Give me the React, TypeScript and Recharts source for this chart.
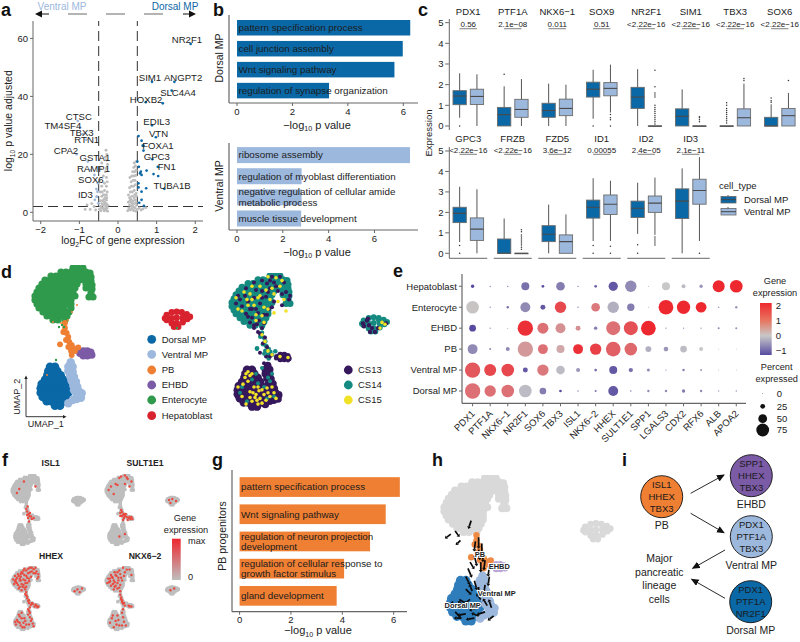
import React from 'react';
import { ScatterChart, Scatter, XAxis, YAxis, ReferenceLine, BarChart, Bar } from 'recharts';

const FONT = '"Liberation Sans", Arial, sans-serif';
const DORSAL = '#0B68A6';
const VENTRAL = '#9DB8DD';
const PBC = '#EF7F33';
const EHBDC = '#7C5BA6';
const ENTC = '#2F9A4C';
const HEPC = '#D8232F';
const CS13C = '#35185C';
const CS14C = '#148A80';
const CS15C = '#F0E227';
const INK = '#222';
const AX = '#666';

type P = number[];

// ---------- a: volcano ----------
const volcanoGrey: P[] = [[-.48,1],[-.45,2],[-.42,3],[-.4,1.5],[-.38,2.5],[-.36,.5],[-.35,3.5],[-.33,1.2],[-.32,2.2],[-.3,.6],[-.3,3],[-.28,1.5],[-.27,.4],[-.26,2.4],[-.44,.5],[-.4,4],[-.36,4.5],[-.33,5],[-.3,4.2],[-.46,4],[-.42,5.5],[-.38,6],[-.3,6],[-.28,7],[-.35,7.5],[-.46,7],[-.3,9],[-.35,10],[-.42,9],[-.28,10.5],[-.3,12],[-.38,12.5],[-.33,14],[-.45,15],[-.3,15],[-.27,16.5],[-.42,17],[-.3,18],[-.33,19],[-.29,20],[-.31,21.4],[-.48,11],[-.85,1],[-.8,2.5],[-.72,1],[-.62,2],[-.58,.8],[-.68,3],
[.25,.5],[.28,1.5],[.3,2.5],[.32,.8],[.34,3.5],[.36,1.2],[.38,2.2],[.4,.6],[.42,3],[.44,1.5],[.46,.4],[.48,2.4],[.27,3.5],[.3,5],[.33,4.5],[.36,5.5],[.39,4],[.42,5],[.45,4.2],[.48,5.5],[.27,6],[.32,7],[.37,7],[.42,7.5],[.47,6.5],[.3,8.5],[.35,9],[.4,9],[.45,9.5],[.34,10.5],[.39,11],[.44,11],[.31,12],[.36,12.5],[.41,12.5],[.46,12.7],[.38,14],[.43,14],[.47,14.5],[.41,15.5],[.45,16],[.42,17],[.47,17.5],[.5,1],[.55,1.5],[.6,.8],[.65,1.2],[.72,1.6],[.29,1],[.35,2],[.41,1.8],[.47,3.3],[.31,4],[.37,3],[.43,6],[-.31,1.8],[-.37,1.2],[-.43,1.4],[-.29,5],[-.35,6],[-.41,7],[-.34,2.9]];
const volcanoUpDorsal: P[] = [[.53,26.3],[.61,24.7],[.64,23],[.66,21.3],[.5,17.5],[.54,15.7],[.57,13.4],[.61,12.9],[.59,14],[.74,14.4],[.92,13.2],[1.04,12.5],[.53,10],[.53,8.6],[.61,7.1],[.73,8.3],[.55,3.3],[.61,4.3],[.67,2.2],[1.16,37.6]];
const volcanoUpVentral: P[] = [[-.55,5.4],[-.6,4.3],[-.51,3.1],[-.53,7.1],[-.52,10],[-.56,8]];
const labelNames = ['NR2F1','SIM1','ANGPT2','SLC4A4','HOXB2','EDIL3','VTN','FOXA1','GPC3','FN1','TUBA1B','CTSC','TM4SF4','TBX3','RTN1','CPA2','GSTA1','RAMP1','SOX6','ID3'];
const labelFC = [1.88,.88,1.46,1.39,.72,.88,.98,.66,.89,1.03,1.2,-1.04,-.98,-.9,-.82,-1.07,-.78,-.72,-.61,-.55];
const labelP = [58.1,45,45,42,38,30,25.9,23,18.3,15.7,8.1,31.5,29.2,27,25,20,17.5,14.6,12.9,5.4];
const labelShift: Record<string, number[]> = { NR2F1:[-3.7,-3.7],SIM1:[-2,-4],ANGPT2:[8.7,-4],SLC4A4:[6.3,2],HOXB2:[.3,-2.7],EDIL3:[4.7,-4],VTN:[2.7,-3.6],FOXA1:[14.4,0],GPC3:[4.4,-2.6],FN1:[9,-.4],TUBA1B:[7.7,-2.7],CTSC:[1,-4],TM4SF4:[-17.3,-2],TBX3:[-1.6,-1.7],RTN1:[.4,0],CPA2:[-10.7,-3.6],GSTA1:[7,-3.9],RAMP1:[3.3,-1.7],SOX6:[-3.6,4.3],ID3:[-11.4,-2.4] };

// ---------- b, g: enrichment bars ----------
const dorsalTerms = ['pattern specification process','cell junction assembly','Wnt signaling pathway','regulation of synapse organization'];
const dorsalVals = [6.25,5.98,5.68,3.32];
const ventralTerms = ['ribosome assembly','regulation of myoblast differentiation','negative regulation of cellular amide\nmetabolic process','muscle tissue development'];
const ventralVals = [7.55,2.82,2.82,2.8];
const pbTerms = ['pattern specification process','Wnt signaling pathway','regulation of neuron projection\ndevelopment','regulation of cellular response to\ngrowth factor stimulus','gland development'];
const pbVals = [6.24,5.69,5.08,4.07,3.78];

// ---------- c: box plots ----------
const row1Genes = ['PDX1','PTF1A','NKX6\u22121','SOX9','NR2F1','SIM1','TBX3','SOX6'];
const row1P = ['0.56','2.1e\u221208','0.011','0.51','<2.22e\u221216','<2.22e\u221216','<2.22e\u221216','<2.22e\u221216'];
const row1Dorsal: P[] = [[.4,1.03,1.45,1.71,2.55],[0,0,.55,.9,1.92],[0,.42,.75,1.1,2.05],[.35,1.4,1.78,2.12,2.72],[0,.85,1.4,1.87,2.75],[0,0,.47,.83,1.77],[0,0,0,0,0],[0,0,0,.42,1.05]];
const row1Ventral: P[] = [[0,1.04,1.43,1.78,2.5],[0,.42,.8,1.29,2.27],[0,.5,.85,1.3,2],[.65,1.46,1.82,2.1,2.97],[0,0,0,0,0],[0,0,0,0,0],[0,0,.4,.83,2.05],[0,0,.5,.85,1.6]];
const row1DorsalOut: P[] = [[0],[2.5],[],[0],[],[],[.15,.25,.35,.45,.55,.65,.75,.85,1,1.12],[1.15,1.22,1.35]];
const row1VentralOut: P[] = [[],[],[],[0,.3,.4,.55],[.1,.2,.3,.4,.5,.6,.7,.8,.9,1,1.4,1.5,1.6,1.9,2.7],[.2,.3,.4,.45],[2.2,2.3],[2.2]];
const row2Genes = ['GPC3','FRZB','FZD5','ID1','ID2','ID3'];
const row2P = ['<2.22e\u221216','<2.22e\u221216','3.6e\u221212','0.00055','2.4e\u221205','2.1e\u221211'];
const row2Dorsal: P[] = [[.55,1.5,1.95,2.25,3.25],[0,0,0,.7,1.7],[0,.57,.93,1.35,2.38],[.6,1.72,2.25,2.6,3.67],[.95,1.75,2.2,2.55,3.45],[0,1.7,2.55,3.15,4.15]];
const row2Ventral: P[] = [[0,.63,1.18,1.73,3.13],[0,0,0,0,0],[0,0,.57,.9,1.9],[.6,1.9,2.4,2.85,3.55],[.9,2,2.45,2.8,3.7],[.6,2.4,3.07,3.62,4.7]];
const row2DorsalOut: P[] = [[0,.38],[],[],[0,.38],[0,.42],[]];
const row2VentralOut: P[] = [[],[.2,.3,.4,.5,.6,.7,.8,.9,1.05,1.15],[],[0,.35],[.4,.5,.6,.7,.8],[0]];

// ---------- d, f, h: UMAP clouds ----------
const umapEnterocyte: P[] = [[58,147],[63,147],[68,147],[46,143],[51,143],[56,143],[61,143],[66,143],[71,143],[75,142],[36,139],[41,139],[46,139],[51,139],[56,139],[61,139],[66,139],[71,139],[76,138],[30,135],[35,135],[40,135],[45,135],[50,135],[55,135],[60,135],[65,135],[70,135],[76,134],[27,131],[32,131],[37,131],[42,131],[47,131],[52,131],[57,131],[62,131],[71,131],[77,130],[24,127],[29,127],[34,127],[39,127],[44,127],[49,127],[54,127],[60,127],[71,127],[77,126],[22,123],[27,123],[32,123],[37,123],[42,123],[47,123],[52,123],[58,123],[76,122],[20,119],[25,119],[30,119],[35,119],[40,119],[45,119],[50,119],[55,119],[60,119],[74,118],[78,118],[20,115],[25,115],[30,115],[35,115],[40,115],[45,115],[50,115],[56,115],[22,111],[27,111],[32,111],[37,111],[42,111],[47,111],[52,111],[56,111],[24,107],[29,107],[34,107],[39,107],[44,107],[49,107],[56,107],[28,103],[33,103],[38,103],[43,103],[48,103],[54,103],[32,99],[37,99],[42,99],[47,99],[52,99],[38,95],[43,95],[50,95]];
const umapPB: P[] = [[50,92],[50,87],[48.3,83],[51.7,82],[53.3,78],[51,75],[54.3,73],[56.7,70],[53.3,68],[58.3,67],[56,64],[60,64],[63.3,67.7],[45,70.7],[56.7,60]];
const umapEHBD: P[] = [[65,61.7],[68.3,64],[68.3,59.3],[72.3,64],[72.3,59.3],[75.7,62.7],[76.7,60]];
const umapVentral: P[] = [[55.7,52.7],[53.3,48.3],[57.7,48.3],[53.3,44],[57.7,43.3],[55,39.3],[59,38.3],[56.7,34],[61,33.3],[58.3,29.3],[62.3,28.3],[59,24.7],[63.7,24],[66.7,21.7],[61.7,20],[66,17.3],[61.7,16],[57.7,15],[53.3,11.7]];
const umapDorsal: P[] = [[35,48.3],[40,48.3],[33.3,44],[37.7,44],[42.3,44],[32.3,39.7],[36.7,39.7],[41,39.7],[45.7,39.7],[30,35.3],[34.3,35.3],[39,35.3],[43.7,35.3],[48.3,35.3],[26.7,31],[31,31],[35.7,31],[40.3,31],[45,31],[49.7,31],[25.7,26.7],[30,26.7],[34.7,26.7],[39.3,26.7],[44,26.7],[48.7,26.7],[53.3,26.7],[25.7,22.3],[30,22.3],[34.7,22.3],[39.3,22.3],[44,22.3],[48.7,22.3],[53.3,22.3],[27.7,18],[32.3,18],[37,18],[41.7,18],[46.3,18],[51,18],[31.7,13.7],[36.3,13.7],[41,13.7],[45.7,13.7],[50.3,13.7],[40,9.3],[45,9.3]];
const umapHepato: P[] = [[150,96.7],[151.7,100],[156.7,102.7],[161.7,103.3],[166.7,102.7],[171.7,100.7],[175,98.3],[151.7,95],[156.7,96.7],[161.7,97.3],[167.7,97.3],[172.3,96],[156.7,91.7],[161.7,91.7],[167.7,92.7],[159,88.3],[163.3,88.3]];
const umapStrayOrange: P[] = [[38,93],[46,92],[53,95],[62,110],[57,103],[32,40]];
const umapStrayGreen: P[] = [[44,88],[47,90],[41,55],[49,88],[162,87]];
const csDark: P[] = [[36,120],[42,124],[30,115],[40,112],[48,118],[54,125],[58,134],[62,140],[66,131],[50,131],[44,132],[34,107],[40,103],[46,108],[52,106],[57,112],[62,120],[28,122],[24,118],[68,146],[60,146],[55,139],[47,100],[52,97],[42,95],[38,98],[74,130],[77,122],[70,116],[50,92],[48,86],[53,82],[51,76],[55,72],[48,66],[54,62],[58,62],[64,60],[72,63],[76,58],[52,55],[56,48],[42,92],[46,88],[33,126],[38,112],[44,112],[50,124],[56,130],[64,136],[70,128],[60,114],[55,106],[45,96],[36,104],[26,126],[34,134],[42,140],[50,142],[58,142],[72,140],[78,126]];
const csYellow: P[] = [[38,128],[32,130],[46,124],[52,114],[58,122],[62,128],[70,142],[64,145],[56,146],[42,116],[36,116],[30,110],[44,100],[50,105],[62,108],[26,112],[48,136],[40,136],[66,120],[72,122],[74,110],[53,78],[56,68],[60,64],[68,62],[76,61],[50,85],[44,22],[48,18],[52,22],[40,15],[46,12],[54,16],[38,25],[58,20],[50,27],[42,30],[36,46],[38,42],[33,40],[36,36],[60,30],[26,30],[30,20],[34,12],[64,18],[43,19],[47,26],[56,24],[170,98],[173,96],[168,92],[35,122],[44,106],[54,132],[48,126],[60,134],[68,136],[24,124],[40,122],[56,112],[52,98],[41,24],[45,16],[50,13],[38,19],[55,29],[62,24],[46,30],[40,44],[34,44],[31,33]];
const csTeal: P[] = [[30,30],[40,38],[46,34],[35,15],[52,30],[56,40],[50,50],[62,20],[45,70],[52,65],[162,98],[166,100],[58,36],[28,24],[44,44],[60,44],[55,18]];
const csIslandDark: P[] = [[151,97],[155,100],[157,95],[160,92],[158,88],[156,102],[163,88],[174,97],[166,92],[152,94]];
const redISL1: P[] = [[52,75],[55,70],[50,80],[57,66],[60,65],[54,62],[53,85],[58,72],[62,60],[35,120],[70,125],[30,112],[45,135],[56,55],[52,68],[66,62]];
const redSULT: P[] = [[52,78],[54,74],[50,72],[56,68],[60,66],[64,64],[68,62],[72,60],[74,64],[58,62],[66,58],[76,60],[56,58],[52,145],[60,147],[64,143],[40,130],[30,125],[25,118],[36,110],[60,130],[70,125],[74,135],[66,140],[155,98],[162,100],[170,96],[158,92],[48,25],[60,30],[50,66],[62,70],[54,66],[58,70],[70,64],[48,142],[44,128]];
const redHHEX: P[] = [[58,146],[66,143],[50,140],[40,136],[32,132],[26,128],[22,120],[30,124],[38,126],[46,130],[54,134],[62,138],[70,134],[76,126],[28,114],[36,118],[44,120],[52,124],[60,126],[24,110],[32,108],[40,110],[48,112],[56,116],[34,100],[42,104],[50,104],[40,96],[48,98],[36,122],[44,140],[70,146],[50,92],[50,85],[52,78],[54,72],[56,68],[60,64],[64,66],[72,62],[76,60],[68,60],[58,58],[56,50],[54,42],[58,36],[60,28],[64,22],[66,16],[30,30],[36,24],[42,14],[50,20],[28,20],[46,34],[34,42],[40,46],[160,98],[170,100],[154,94],[165,92],[34,128],[42,134],[50,128],[58,136],[66,134],[28,120],[38,118],[48,118],[56,122],[30,112],[44,108],[52,112],[36,104],[46,102],[26,116],[62,146],[54,144],[46,144],[38,132],[72,138],[76,132],[74,122],[48,88],[52,82],[56,74],[62,68],[70,64],[74,58],[54,54],[58,46],[62,32],[56,20],[46,14],[38,18],[32,26],[26,26],[40,34],[48,28],[36,38],[44,24]];
const redNKX: P[] = [[56,146],[64,142],[48,140],[38,136],[30,130],[24,122],[34,124],[42,128],[50,132],[58,128],[74,130],[28,116],[38,114],[46,118],[54,118],[22,112],[30,106],[40,106],[50,108],[36,98],[44,100],[50,94],[50,86],[52,80],[54,74],[56,66],[60,62],[68,62],[74,60],[56,54],[54,46],[56,36],[58,26],[62,18],[32,34],[40,28],[36,14],[28,24],[48,18],[44,40],[158,96],[166,100],[32,126],[40,130],[46,124],[36,118],[26,114],[44,112],[34,110],[52,124],[60,136],[70,142],[44,136],[28,122],[38,104],[48,102],[54,70],[52,76],[58,68],[70,60],[46,30],[54,18],[42,20],[34,40]];
const streamArrows: P[] = [[52,90,0,9],[49,86,1,8],[55,84,0,8],[52,78,-1,8],[56,76,0,8],[48,72,-2,8],[58,68,1,8],[54,66,0,8],[62,62,1,8],[44,66,-3,5],[42,60,-3,7],[40,52,-3,6],[48,48,-2,7],[52,42,0,7],[58,44,1,7],[62,52,1,7],[40,40,-4,4],[34,30,-5,3],[44,30,4,3],[50,22,5,2],[58,18,6,2],[30,18,-4,4],[40,16,6,1],[48,12,6,1],[66,14,4,3],[45,106,2,6],[30,96,-3,4],[26,93,4,3],[35,87,3,3],[38,24,4,-3],[54,30,3,-4],[60,24,3,-5],[46,38,2,-5],[28,28,3,4],[36,12,5,0],[52,14,5,-2],[64,22,2,-6]];

// ---------- e: dot plot ----------
const dotGenes = ['PDX1','PTF1A','NKX6\u22121','NR2F1','SOX6','TBX3','ISL1','NKX6\u22122','HHEX','SULT1E1','SPP1','LGALS3','CDX2','RFX6','ALB','APOA2'];
const dotRows = ['Dorsal MP','Ventral MP','PB','EHBD','Enterocyte','Hepatoblast'];
const dotPct: P[] = [
  [91,66,74,74,37,12,3,7.5,57,3,10,10,16,10,3,5],
  [91,70,74,26,66,49,20,12,45,22,14,3,10,7.5,1,1],
  [57,7.5,20,91,57,45,57,66,87,74,32,24,37,20,1,1],
  [37,3,1,91,64,57,26,16,82,82,87,3,3,3,7.5,7.5],
  [74,3,10,57,26,66,3,49,66,41,1,87,78,62,5,10],
  [16,3,3,45,12,49,3,12,53,66,1,45,20,16,70,74],
];
const dotExpr: P[] = [
  [1.1,1.1,1.1,-.1,-.6,-1.2,-.7,-.7,-.9,-.8,-.5,-.5,-.6,-.5,-.4,-.4],
  [1.4,1.6,1.6,-.9,1,-.1,-.4,-.7,-.9,-.7,-.5,-.5,-.6,-.4,-.4,-.4],
  [-.5,-.5,-.5,.6,1.1,.4,1.9,1.7,1.3,1.2,-.2,-.4,-.1,0,-.4,-.4],
  [-1.1,-.6,-.6,1.9,1.1,.7,.7,-.6,1.1,1.5,2,-.5,-.5,-.5,-.5,-.5],
  [.05,-.5,-.7,-.5,-.9,1.6,-.6,1,-.2,-.6,-.5,2,2,2,-.4,-.4],
  [-1.1,-.8,-.8,-.7,-1.2,-.6,-.8,-.8,-.9,-.5,-.5,0,-.1,-.4,2,2],
];
const pctLegend = [0,25,50,75];

// ---------- tables for the library ----------
const points = (a: P[]) => a.map(p => ({ x: p[0], y: p[1] }));
const barRows = (t: string[], v: number[]) => t.map((term, i) => ({ term, value: v[i] }));
const boxRows = (g: string[], pv: string[], d: P[], v: P[], dO: P[], vO: P[]) => g.map((gene, i) => ({
  gene, pv: pv[i], ds: d[i], vs: v[i], dO: dO[i], vO: vO[i],
  d: [Math.min(d[i][0], ...dO[i]), Math.max(d[i][4], ...dO[i])],
  v: [Math.min(v[i][0], ...vO[i]), Math.max(v[i][4], ...vO[i])],
}));
const dotData = dotRows.flatMap((row, r) => dotGenes.map((g, c) => ({ x: c, y: r, pct: dotPct[r][c], expr: dotExpr[r][c] })));

// ---------- helpers ----------
const mix = (a: number[], b: number[], t: number) => `rgb(${a.map((v, i) => Math.round(v + (b[i] - v) * t)).join(',')})`;
const exprColor = (e: number) => {
  const low = [87, 75, 160], mid = [200, 200, 200], high = [238, 40, 47];
  return e < 0 ? mix(mid, low, Math.min(1, -e)) : mix(mid, high, Math.min(1, e / 2));
};
const pctRadius = (p: number) => 0.4 + p * 0.08;

const Abs = ({ left, top, children }: any) => <div style={{ position: 'absolute', left, top }}>{children}</div>;

const EnrichShape = (fill: string, fs: number) => (p: any) => {
  const lines = String(p.payload.term).split('\n');
  const cy = p.y + p.height / 2;
  return (
    <g>
      <rect x={p.x} y={p.y} width={p.width} height={p.height} fill={fill} />
      {lines.map((l, i) => (
        <text key={i} x={p.x + 1.5} y={cy + (i - (lines.length - 1) / 2) * 10.4} dy={3.3} fontSize={fs} fill="#1c1c1c">{l}</text>
      ))}
    </g>
  );
};

const EnrichChart = ({ left, top, width, height, data, fill, domain, ticks, padTop, padBottom, barSize }: any) => (
  <Abs left={left} top={top}>
    <BarChart width={width} height={height} data={data} layout="vertical" margin={{ top: 0, right: 0, bottom: 0, left: 0 }} barCategoryGap={0}>
      <XAxis type="number" domain={domain} ticks={ticks} allowDataOverflow height={18} tick={{ fontSize: 9.5, fill: INK }} tickSize={3} tickLine={{ stroke: AX }} axisLine={{ stroke: AX, strokeWidth: 1.2 }} />
      <YAxis type="category" dataKey="term" width={10} tick={false} tickLine={false} axisLine={{ stroke: AX, strokeWidth: 1.2 }} padding={{ top: padTop, bottom: padBottom }} />
      <Bar dataKey="value" barSize={barSize} isAnimationActive={false} shape={EnrichShape(fill, 9.8)} />
    </BarChart>
  </Abs>
);

const BoxShape = (fill: string, statKey: string, outKey: string, rangeKey: string) => (p: any) => {
  const row = p.payload;
  const s: number[] = row[statKey];
  const o: number[] = row[outKey];
  const [mn, mx] = row[rangeKey];
  const k = p.height / (mx - mn);
  const Y = (v: number) => p.y + p.height - (v - mn) * k;
  const cx = p.x + p.width / 2;
  return (
    <g>
      <line x1={cx} x2={cx} y1={Y(s[0])} y2={Y(s[4])} stroke="#555" strokeWidth={1} />
      <rect x={p.x} y={Y(s[3])} width={p.width} height={Math.max(0.5, Y(s[1]) - Y(s[3]))} fill={fill} stroke="#6b6b6b" strokeWidth={0.9} />
      <line x1={p.x} x2={p.x + p.width} y1={Y(s[2])} y2={Y(s[2])} stroke="#4a4a4a" strokeWidth={1.1} />
      {o.map((v, i) => <circle key={i} cx={cx} cy={Y(v)} r={0.75} fill="#333" />)}
    </g>
  );
};

const FacetTick = (titleDy: number, pDy: number, brDy: number, baseline: boolean) => (p: any) => {
  const gene = p.payload.value;
  const pv = [...row1Genes, ...row2Genes].indexOf(gene);
  const pt = [...row1P, ...row2P][pv];
  return (
    <g>
      <text x={p.x} y={p.y + titleDy} dy={3.4} textAnchor="middle" fontSize={9.5} fill={INK}>{gene}</text>
      <text x={p.x} y={p.y + pDy} dy={2.9} textAnchor="middle" fontSize={8} fill={INK}>{pt}</text>
      <line x1={p.x - 8.7} x2={p.x + 8.7} y1={p.y + brDy} y2={p.y + brDy} stroke="#888" strokeWidth={1.1} />
      {baseline && <line x1={p.x - 19} x2={p.x + 19} y1={p.y} y2={p.y} stroke="#666" strokeWidth={1} />}
    </g>
  );
};

const BoxYTick = (p: any) => (
  <g>
    <line x1={p.x - 0.8} x2={p.x + 2.9} y1={p.y} y2={p.y} stroke={AX} />
    <text x={p.x - 2.5} y={p.y} dy={3.4} textAnchor="end" fontSize={9.5} fill={INK}>{p.payload.value}</text>
  </g>
);

const BoxRow = ({ top, width, data, domain, height, tick }: any) => (
  <Abs left={416.4} top={top}>
    <BarChart width={width} height={height} data={data} margin={{ top: 19, right: 0, bottom: 0, left: 0 }} barGap={4} barSize={13.3}>
      <XAxis dataKey="gene" type="category" interval={0} height={8} axisLine={false} tickLine={false} tickSize={0} tickMargin={0} tick={tick} />
      <YAxis type="number" domain={domain} ticks={[0, 1, 2, 3, 4, 5]} interval={0} allowDataOverflow width={30} axisLine={false} tickLine={false} tickSize={0} tickMargin={0} tick={BoxYTick} />
      <Bar dataKey="d" isAnimationActive={false} shape={BoxShape(DORSAL, 'ds', 'dO', 'd')} />
      <Bar dataKey="v" isAnimationActive={false} shape={BoxShape(VENTRAL, 'vs', 'vO', 'v')} />
    </BarChart>
  </Abs>
);

const dotShape = (fill: string, r: number) => (p: any) => <circle cx={p.cx} cy={p.cy} r={r} fill={fill} />;

const Umap = ({ left, top, sx, sy, layers, arrows }: any) => (
  <Abs left={left} top={top}>
    <ScatterChart width={180 * sx} height={150 * sy} margin={{ top: 0, right: 0, bottom: 0, left: 0 }}>
      <XAxis type="number" dataKey="x" domain={[0, 180]} hide allowDataOverflow />
      <YAxis type="number" dataKey="y" domain={[0, 150]} hide allowDataOverflow />
      {layers.map((l: any, i: number) => (
        <Scatter key={i} data={points(l[0])} isAnimationActive={false} shape={dotShape(l[1], l[2])} />
      ))}
      {arrows && (
        <Scatter data={arrows.map((a: P) => ({ x: a[0], y: a[1], u: a[2], v: a[3] }))} isAnimationActive={false} shape={(p: any) => {
          const u = p.payload.u, v = p.payload.v;
          const L = Math.hypot(u, v) || 1;
          const ex = p.cx - u, ey = p.cy + v;
          return (
            <g>
              <line x1={p.cx} y1={p.cy} x2={ex} y2={ey} stroke="#0a0a0a" strokeWidth={1.7} />
              <path d={`M${ex - u / L * 2.5} ${ey + v / L * 2.5} L${ex + v / L * 2} ${ey + u / L * 2} L${ex - v / L * 2} ${ey - u / L * 2} Z`} fill="#0a0a0a" />
            </g>
          );
        }} />
      )}
    </ScatterChart>
  </Abs>
);

const allGrey = [umapEnterocyte, umapPB, umapEHBD, umapVentral, umapDorsal, umapHepato];

const FeatureMap = ({ left, top, sy, red }: any) => (
  <Umap left={left} top={top} sx={0.465} sy={sy} layers={[...allGrey.map(a => [a, '#BEBEBE', 1.9]), [red, '#EA4A3F', 1.2]]} />
);

const LogLabel = ({ x, y, rest, fs = 11 }: any) => (
  <text x={x} y={y} textAnchor="middle" fontSize={fs} fill={INK} dy={3.6}>
    {'\u2212log'}<tspan fontSize={fs * 0.65} dy={2.8}>10</tspan><tspan dy={-2.8}> {rest}</tspan>
  </text>
);

const Letter = ({ x, y, c }: any) => <text x={x} y={y} fontSize={18} fontWeight="bold" fill="#111">{c}</text>;
const T = ({ x, y, s, fs = 9.5, a = 'start', fill = INK, w, rot }: any) => (
  <text x={x} y={y} dy={fs * 0.35} fontSize={fs} textAnchor={a} fill={fill} fontWeight={w} transform={rot ? `rotate(${rot} ${x} ${y})` : undefined}>{s}</text>
);

const Node = ({ cx, cy, fill, lines, label }: any) => (
  <g>
    <circle cx={cx} cy={cy} r={21} fill={fill} stroke="#111" strokeWidth={0.9} />
    {lines.map((l: string, i: number) => <T key={i} x={cx} y={cy + (i - 1) * 11.6} s={l} a="middle" fs={9.5} fill="#1a1a1a" />)}
    <T x={cx} y={cy + 28.5} s={label} a="middle" fs={10.5} />
  </g>
);

const Arrow = ({ x1, y1, x2, y2 }: any) => <line x1={x1} y1={y1} x2={x2} y2={y2} stroke="#111" strokeWidth={0.9} markerEnd="url(#ah)" />;
const Halo = ({ x, y, s }: any) => (
  <text x={x} y={y} dy={2.8} textAnchor="middle" fontSize={7.4} fontWeight="bold" fill="#222" stroke="#fff" strokeWidth={2} paintOrder="stroke">{s}</text>
);

export default function App() {
  return (
    <div style={{ position: 'fixed', left: 0, top: 0, width: 800, height: 642, overflow: 'hidden', background: '#fff', fontFamily: FONT }}>
      {/* a */}
      <Abs left={0} top={0}>
        <ScatterChart width={203} height={241} margin={{ top: 21, right: 0, bottom: 0, left: 0 }}>
          <XAxis type="number" dataKey="x" domain={[-2.2, 2.2]} ticks={[-2, -1, 0, 1, 2]} allowDataOverflow height={20} tick={{ fontSize: 9.5, fill: INK }} tickSize={3} tickLine={{ stroke: AX }} axisLine={{ stroke: AX }} tickFormatter={(v: number) => String(v).replace('-', '\u2212')} />
          <YAxis type="number" dataKey="y" domain={[-3, 66]} ticks={[0, 20, 40, 60]} allowDataOverflow width={33} tick={{ fontSize: 9.5, fill: INK }} tickSize={3} tickLine={{ stroke: AX }} axisLine={{ stroke: AX }} />
          <Scatter data={points(volcanoGrey)} isAnimationActive={false} shape={dotShape('#BDBDBD', 1.45)} />
          <Scatter data={points(volcanoUpVentral)} isAnimationActive={false} shape={dotShape(VENTRAL, 1.35)} />
          <Scatter data={points(volcanoUpDorsal)} isAnimationActive={false} shape={dotShape(DORSAL, 1.35)} />
          <ReferenceLine x={-0.5} stroke="#333" strokeDasharray="10 5" />
          <ReferenceLine x={0.5} stroke="#333" strokeDasharray="10 5" />
          <ReferenceLine y={2} stroke="#333" strokeDasharray="10 5" />
          <Scatter data={labelNames.map((name, i) => ({ name, x: labelFC[i], y: labelP[i] }))} isAnimationActive={false} shape={(p: any) => {
            const name = p.payload.name;
            const s = labelShift[name];
            const c = p.payload.x < 0 ? VENTRAL : DORSAL;
            return (
              <g>
                <circle cx={p.cx} cy={p.cy} r={1.35} fill={c} />
                <text x={p.cx + s[0]} y={p.cy + s[1]} dy={3.3} textAnchor="middle" fontSize={9.6} fill={INK}>{name}</text>
              </g>
            );
          }} />
        </ScatterChart>
      </Abs>

      {/* b */}
      <EnrichChart left={219} top={15} width={199} height={106} data={barRows(dorsalTerms, dorsalVals)} fill={DORSAL} domain={[-0.289, 6.53]} ticks={[0, 2, 4, 6]} padTop={2} padBottom={2.2} barSize={15.5} />
      <EnrichChart left={219} top={143} width={199} height={105} data={barRows(ventralTerms, ventralVals)} fill={VENTRAL} domain={[-0.349, 7.9]} ticks={[0, 2, 4, 6]} padTop={1.1} padBottom={1.4} barSize={16} />

      {/* c */}
      <BoxRow top={0} width={30 + 356} height={138} data={boxRows(row1Genes, row1P, row1Dorsal, row1Ventral, row1DorsalOut, row1VentralOut)} domain={[-0.194, 5.177]} tick={FacetTick(-118.3, -105.7, -101.3, false)} />
      <BoxRow top={128} width={30 + 267} height={138.3} data={boxRows(row2Genes, row2P, row2Dorsal, row2Ventral, row2DorsalOut, row2VentralOut)} domain={[-0.244, 5.195]} tick={FacetTick(-119.3, -108.3, -104, true)} />

      {/* d */}
      <Umap left={15} top={265} sx={1} sy={1} layers={[[umapEnterocyte, ENTC, 3.6], [umapHepato, HEPC, 3.2], [umapDorsal, DORSAL, 4.3], [umapVentral, VENTRAL, 4.2], [umapEHBD, EHBDC, 3.8], [umapPB, PBC, 2.9], [umapStrayOrange, PBC, 1], [umapStrayGreen, ENTC, 1.2]]} />
      <Umap left={212} top={273} sx={1} sy={0.95} layers={[[umapEnterocyte, CS14C, 3.5], [umapHepato, CS14C, 3], [umapDorsal, CS13C, 4.2], [umapVentral, CS13C, 3.8], [umapPB, CS14C, 2.3], [umapEHBD, CS13C, 3], [csDark, CS13C, 2], [csIslandDark, CS13C, 2.2], [csTeal, CS14C, 2], [csYellow, CS15C, 1.8]]} />

      {/* e */}
      <Abs left={401.7} top={264}>
        <ScatterChart width={344.3} height={179.3} margin={{ top: 10, right: 0, bottom: 0, left: 0 }}>
          <XAxis type="number" dataKey="x" domain={[-0.603, 15.57]} ticks={dotGenes.map((_, i) => i)} interval={0} allowDataOverflow height={40} tickSize={3} tickLine={{ stroke: AX }} axisLine={{ stroke: AX, strokeWidth: 1.2 }}
            tick={(p: any) => <text x={p.x + 3} y={p.y + 6} textAnchor="end" fontSize={9.5} fill={INK} transform={`rotate(-45 ${p.x + 3} ${p.y + 6})`}>{dotGenes[p.payload.value]}</text>} />
          <YAxis type="number" dataKey="y" domain={[-0.587, 5.587]} ticks={dotRows.map((_, i) => i)} interval={0} allowDataOverflow width={60} tickSize={3} tickLine={{ stroke: AX }} axisLine={{ stroke: AX, strokeWidth: 1.2 }}
            tick={(p: any) => <text x={p.x} y={p.y} dy={3.3} textAnchor="end" fontSize={9.5} fill={INK}>{dotRows[p.payload.value]}</text>} />
          <Scatter data={dotData} isAnimationActive={false} shape={(p: any) => <circle cx={p.cx} cy={p.cy} r={pctRadius(p.payload.pct)} fill={exprColor(p.payload.expr)} />} />
        </ScatterChart>
      </Abs>

      {/* f */}
      <FeatureMap left={2.6} top={474} sy={0.5} red={redISL1} />
      <FeatureMap left={96.6} top={474} sy={0.5} red={redSULT} />
      <FeatureMap left={2.6} top={566} sy={0.45} red={redHHEX} />
      <FeatureMap left={96.6} top={566} sy={0.45} red={redNKX} />

      {/* g */}
      <EnrichChart left={221.7} top={470} width={185.3} height={159.7} data={barRows(pbTerms, pbVals)} fill={PBC} domain={[-0.295, 6.53]} ticks={[0, 2, 4, 6]} padTop={3.2} padBottom={2.5} barSize={19.7} />

      {/* h */}
      <Umap left={422.5} top={474.6} sx={1.07} sy={1.037} layers={[[umapEnterocyte, '#D9D9D9', 4], [umapHepato, '#D9D9D9', 3.4], [umapDorsal, '#2F7DBB', 4.6], [umapVentral, VENTRAL, 4.4], [umapEHBD, '#B9A6D3', 3.2], [umapPB, '#EF8A45', 3.2]]} arrows={streamArrows} />

      {/* annotations */}
      <svg width={800} height={642} style={{ position: 'absolute', left: 0, top: 0, pointerEvents: 'none' }}>
        <defs>
          <linearGradient id="geneExpr" x1="0" y1="0" x2="0" y2="1">
            <stop offset="0" stopColor="#EE282F" />
            <stop offset="0.33" stopColor="#E8745E" />
            <stop offset="0.63" stopColor="#C8C8C8" />
            <stop offset="1" stopColor="#574BA0" />
          </linearGradient>
          <linearGradient id="featureExpr" x1="0" y1="0" x2="0" y2="1">
            <stop offset="0" stopColor="#EE282F" />
            <stop offset="1" stopColor="#BEBEBE" />
          </linearGradient>
          <marker id="ah" markerWidth="9" markerHeight="8" refX="7" refY="3.5" orient="auto" markerUnits="userSpaceOnUse">
            <path d="M0 0 L8 3.5 L0 7 Z" fill="#111" />
          </marker>
        </defs>

        <Letter x={1} y={16} c="a" /><Letter x={213} y={16} c="b" /><Letter x={418} y={16} c="c" />
        <Letter x={1} y={278} c="d" /><Letter x={393} y={277} c="e" /><Letter x={2} y={466} c="f" />
        <Letter x={212} y={466} c="g" /><Letter x={432} y={466} c="h" /><Letter x={622} y={466} c="i" />

        {/* a annotations */}
        <T x={62} y={6.5} s="Ventral MP" a="middle" fs={10} fill="#9DB8DD" />
        <T x={175} y={6.5} s="Dorsal MP" a="middle" fs={10} fill={DORSAL} />
        <line x1={40} x2={49} y1={14} y2={14} stroke="#111" />
        <line x1={68} x2={87} y1={14} y2={14} stroke="#777" strokeWidth={1.1} />
        <line x1={106} x2={125} y1={14} y2={14} stroke="#777" strokeWidth={1.1} />
        <line x1={144} x2={163} y1={14} y2={14} stroke="#777" strokeWidth={1.1} />
        <path d="M42 10.5 L35 14 L42 17.5 Z" fill="#111" />
        <line x1={183} x2={191} y1={14} y2={14} stroke="#111" />
        <path d="M189 10.5 L196 14 L189 17.5 Z" fill="#111" />
        <text x={123} y={244} textAnchor="middle" fontSize={10.5} fill={INK}>log<tspan fontSize={6.8} dy={2.8}>2</tspan><tspan dy={-2.8}>FC of gene expression</tspan></text>
        <text transform="rotate(-90 12 120.7)" x={12} y={120.7} textAnchor="middle" fontSize={10.5} fill={INK}>log<tspan fontSize={6.8} dy={2.8}>10</tspan><tspan dy={-2.8}> p value adjusted</tspan></text>

        {/* b annotations */}
        <LogLabel x={317} y={125} rest="p value" />
        <LogLabel x={317} y={252} rest="p value" />
        <T x={219} y={58} s="Dorsal MP" a="middle" fs={10.5} rot={-90} />
        <T x={219} y={186} s="Ventral MP" a="middle" fs={10.5} rot={-90} />

        {/* c annotations */}
        <line x1={449.3} x2={449.3} y1={19} y2={130} stroke={AX} />
        <line x1={449.3} x2={449.3} y1={147} y2={258.3} stroke={AX} />
        <T x={429} y={133} s="Expression" a="middle" fs={9.5} rot={-90} />
        <T x={719} y={186} s="cell_type" fs={9.5} />
        <line x1={728} x2={728} y1={195} y2={203} stroke="#555" />
        <rect x={721} y={196.5} width={15} height={6.5} fill={DORSAL} stroke="#666" strokeWidth={0.8} />
        <line x1={721} x2={736} y1={199.7} y2={199.7} stroke="#444" />
        <T x={744} y={199.5} s="Dorsal MP" fs={9.5} />
        <line x1={728} x2={728} y1={207} y2={215} stroke="#555" />
        <rect x={721} y={208.5} width={15} height={6.5} fill={VENTRAL} stroke="#666" strokeWidth={0.8} />
        <line x1={721} x2={736} y1={211.7} y2={211.7} stroke="#444" />
        <T x={744} y={211.5} s="Ventral MP" fs={9.5} />

        {/* d annotations */}
        {[['Dorsal MP', DORSAL, 339.3], ['Ventral MP', VENTRAL, 354.3], ['PB', PBC, 370], ['EHBD', EHBDC, 385], ['Enterocyte', ENTC, 400], ['Hepatoblast', HEPC, 415.7]].map((d: any) => (
          <g key={d[0]}><circle cx={151.7} cy={d[2]} r={4.4} fill={d[1]} /><T x={161.7} y={d[2]} s={d[0]} fs={9.5} /></g>
        ))}
        {[['CS13', CS13C, 370], ['CS14', CS14C, 385], ['CS15', CS15C, 400]].map((d: any) => (
          <g key={d[0]}><circle cx={348.3} cy={d[2]} r={4.4} fill={d[1]} /><T x={358} y={d[2]} s={d[0]} fs={9.5} /></g>
        ))}
        <line x1={26} x2={26} y1={416.7} y2={379} stroke="#222" strokeWidth={0.9} />
        <line x1={26} x2={63} y1={416.7} y2={416.7} stroke="#222" strokeWidth={0.9} />
        <path d="M24.3 379 L26 375.5 L27.7 379 Z" fill="#222" />
        <path d="M63 415 L66.5 416.7 L63 418.4 Z" fill="#222" />
        <T x={45.7} y={423.5} s="UMAP_1" a="middle" fs={9} />
        <T x={17} y={396.7} s="UMAP_2" a="middle" fs={9} rot={-90} />

        {/* e legend */}
        <T x={775} y={280.7} s="Gene" a="middle" fs={9.2} />
        <T x={775} y={292.7} s="expression" a="middle" fs={9.2} />
        <rect x={760} y={303} width={11.7} height={52} fill="url(#geneExpr)" />
        {[['2', 305.7], ['1', 321], ['0', 335.7], ['\u22121', 350.7]].map((d: any) => <T key={d[0]} x={775.7} y={d[1]} s={d[0]} fs={9.5} />)}
        <T x={776.7} y={366.7} s="Percent" a="middle" fs={9.2} />
        <T x={776.7} y={378.7} s="expressed" a="middle" fs={9.2} />
        {pctLegend.map((p, i) => (
          <g key={p}><circle cx={762.7} cy={[393.7, 406.3, 418.7, 430][i]} r={pctRadius(p)} fill="#111" /><T x={776.7} y={[393.7, 406.3, 418.7, 430][i]} s={String(p)} fs={9.5} /></g>
        ))}

        {/* f annotations */}
        <T x={50.7} y={463} s="ISL1" a="middle" fs={8.6} w="bold" />
        <T x={145} y={463} s="SULT1E1" a="middle" fs={8.6} w="bold" />
        <T x={51} y={555.5} s="HHEX" a="middle" fs={8.6} w="bold" />
        <T x={145} y={556} s={dotGenes[7]} a="middle" fs={8.6} w="bold" />
        <T x={185} y={518} s="Gene" a="middle" fs={9.2} />
        <T x={186} y={530} s="expression" a="middle" fs={9.2} />
        <rect x={172} y={538.7} width={8.7} height={41.3} fill="url(#featureExpr)" />
        <T x={188} y={540.7} s="max" fs={9.2} />
        <T x={188} y={576.7} s="0" fs={9.2} />

        {/* g annotations */}
        <LogLabel x={318} y={630.7} rest="p value" />
        <T x={222.7} y={536} s="PB progenitors" a="middle" fs={10.5} rot={-90} />

        {/* h annotations */}
        <Halo x={480} y={554} s="PB" />
        <Halo x={499.3} y={565.7} s="EHBD" />
        <Halo x={496.7} y={593.3} s="Ventral MP" />
        <Halo x={462.7} y={605} s="Dorsal MP" />

        {/* i */}
        <Node cx={661.7} cy={496.7} fill={PBC} lines={['ISL1', 'HHEX', 'TBX3']} label="PB" />
        <Node cx={751.3} cy={475.7} fill={EHBDC} lines={['SPP1', 'HHEX', 'TBX3']} label="EHBD" />
        <Node cx={751.3} cy={536.7} fill={VENTRAL} lines={['PDX1', 'PTF1A', 'TBX3']} label="Ventral MP" />
        <Node cx={750.7} cy={601.7} fill={DORSAL} lines={['PDX1', 'PTF1A', 'NR2F1']} label="Dorsal MP" />
        {['Major', 'pancreatic', 'lineage', 'cells'].map((s, i) => <T key={s} x={659.3} y={558.3 + i * 13.65} s={s} a="middle" fs={10.5} />)}
        <Arrow x1={690.7} y1={493.3} x2={724} y2={475} />
        <Arrow x1={690.7} y1={513.3} x2={724} y2={532.7} />
        <Arrow x1={725} y1={550} x2={692.7} y2={568.3} />
        <Arrow x1={725} y1={598.3} x2={691.7} y2={579.3} />
      </svg>
    </div>
  );
}
